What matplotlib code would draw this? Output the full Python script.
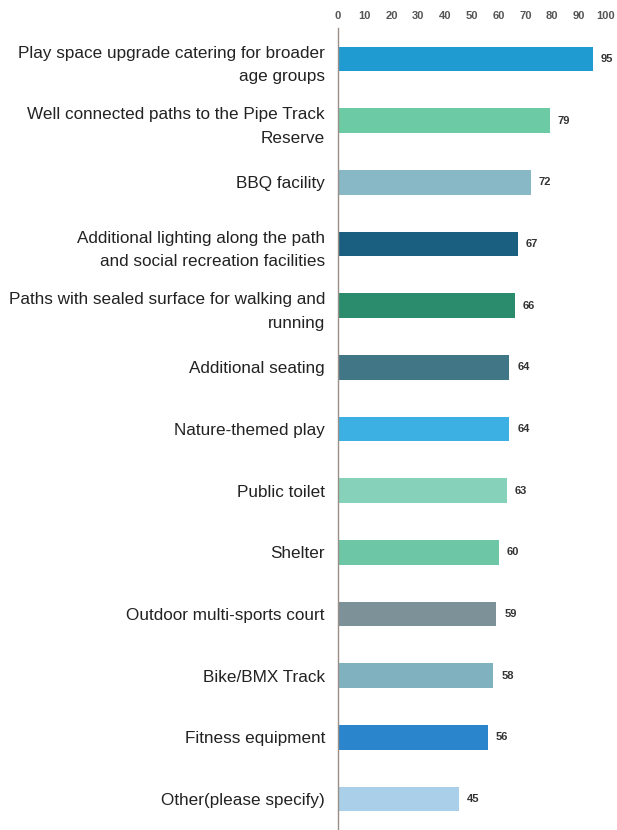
import matplotlib.pyplot as plt

labels = [
    "Play space upgrade catering for broader\nage groups",
    "Well connected paths to the Pipe Track\nReserve",
    "BBQ facility",
    "Additional lighting along the path\nand social recreation facilities",
    "Paths with sealed surface for walking and\nrunning",
    "Additional seating",
    "Nature-themed play",
    "Public toilet",
    "Shelter",
    "Outdoor multi-sports court",
    "Bike/BMX Track",
    "Fitness equipment",
    "Other(please specify)",
]
values = [95, 79, 72, 67, 66, 64, 64, 63, 60, 59, 58, 56, 45]
colors = ["#1f9bd2", "#6ccaa4", "#88b8c5", "#1b5f80", "#2a8b6d", "#407685",
          "#3cb0e2", "#86d1b9", "#6dc7a7", "#7d9199", "#80b1be", "#2b85cc", "#a9d0e8"]
ticks = list(range(0, 101, 10))

plt.rcParams['font.family'] = ['Liberation Sans', 'DejaVu Sans']

fig = plt.figure(figsize=(6.17, 8.30), dpi=100)
ax = fig.add_axes([0.548, 0.0, 0.434, 0.966])

pos = list(range(len(values)))
ax.barh(pos, values, height=0.4, color=colors)
for p, v in zip(pos, values):
    ax.text(v + 3, p, str(v), va='center', ha='left', fontsize=8,
            fontweight='bold', color='#333333')

ax.set_ylim(len(values) - 0.5, -0.5)
ax.set_xlim(0, 100)
ax.xaxis.tick_top()
ax.set_xticks(ticks)
ax.tick_params(axis='x', length=0, labelsize=8, labelcolor='#555555', pad=5)
for t in ax.get_xticklabels():
    t.set_fontweight('bold')
ax.set_yticks(pos)
ax.set_yticklabels(labels, fontsize=12.3, color='#222222', ha='right',
                   linespacing=1.7)
ax.tick_params(axis='y', length=0, pad=9.5)

for s in ['top', 'right', 'bottom']:
    ax.spines[s].set_visible(False)
ax.spines['left'].set_color('#9a8f88')
ax.spines['left'].set_linewidth(1)

fig.savefig('out.png', dpi=100)
